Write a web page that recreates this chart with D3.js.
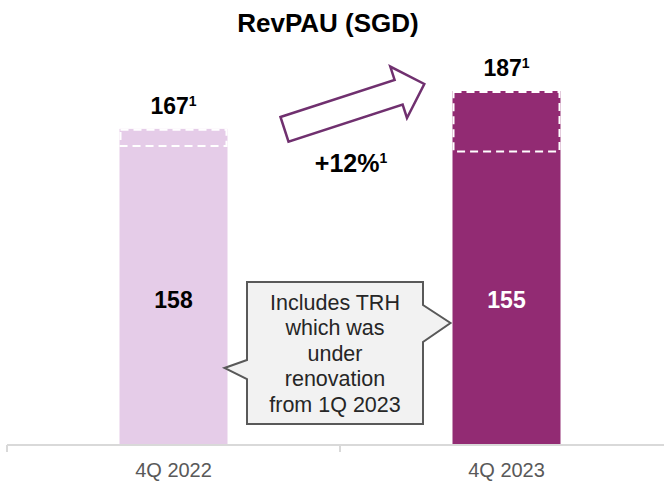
<!DOCTYPE html>
<html>
<head>
<meta charset="utf-8">
<script src="https://cdn.jsdelivr.net/npm/d3@7"></script>
<style>
  body { margin: 0; background: #fff; }
  text { font-family: "Liberation Sans", Arial, sans-serif; }
</style>
</head>
<body>
<div id="wrapper"></div>
<script>
// data
const categories = ["4Q 2022", "4Q 2023"];
const baseValues = [158, 155];      // solid part
const totalValues = [167, 187];     // incl. footnote 1 adjustment
const barColors = ["#e5cce8", "#922b73"];
const baseLabelColors = ["#000000", "#ffffff"];
const growthLabel = "+12%";
const calloutLines = ["Includes TRH", "which was", "under", "renovation", "from 1Q 2023"];

const dimensions = { width: 664, height: 482 };
const baseline = 445;

const wrapper = d3.select("#wrapper").append("svg")
  .attr("width", dimensions.width)
  .attr("height", dimensions.height);

const xScale = d3.scaleBand().domain(categories).range([7, 673]);
const yScale = d3.scaleLinear().domain([0, 200]).range([baseline, baseline - 378.6]);
const barWidth = 108;
const cx = c => xScale(c) + xScale.bandwidth() / 2;

// title
wrapper.append("text")
  .attr("x", 328).attr("y", 32)
  .attr("text-anchor", "middle")
  .style("font-size", "26px").style("font-weight", "bold")
  .text("RevPAU (SGD)");

// bars
const bars = wrapper.append("g");
categories.forEach((c, i) => {
  const x0 = cx(c) - barWidth / 2;
  bars.append("rect")
    .attr("x", x0).attr("y", yScale(totalValues[i]))
    .attr("width", barWidth).attr("height", baseline - yScale(totalValues[i]))
    .attr("fill", barColors[i]);
  // dashed outline of the adjustment part
  bars.append("rect")
    .attr("x", x0 + 1).attr("y", yScale(totalValues[i]) + 1)
    .attr("width", barWidth - 2).attr("height", yScale(baseValues[i]) - yScale(totalValues[i]) - 1)
    .attr("fill", "none")
    .attr("stroke", "#ffffff").attr("stroke-width", 2)
    .attr("stroke-dasharray", "8,5");
  // base value label
  bars.append("text")
    .attr("x", cx(c)).attr("y", 308)
    .attr("text-anchor", "middle")
    .attr("fill", baseLabelColors[i])
    .style("font-size", "23px").style("font-weight", "bold")
    .text(baseValues[i]);
  // total label with footnote
  const t = bars.append("text")
    .attr("x", cx(c)).attr("y", yScale(totalValues[i]) - 15)
    .attr("text-anchor", "middle")
    .style("font-size", "23px").style("font-weight", "bold");
  t.append("tspan").text(totalValues[i]);
  t.append("tspan").attr("dy", -8).style("font-size", "14px").text("1");
});

// axis
const axis = wrapper.append("g").attr("transform", `translate(0,${baseline})`);
axis.append("line")
  .attr("x1", 7).attr("x2", dimensions.width)
  .attr("stroke", "#d9d9d9").attr("stroke-width", 2);
categories.forEach(c => {
  axis.append("line")
    .attr("x1", xScale(c)).attr("x2", xScale(c))
    .attr("y1", 0).attr("y2", 7)
    .attr("stroke", "#d9d9d9").attr("stroke-width", 2);
});
const xAxis = d3.axisBottom(xScale).tickSize(0).tickPadding(18);
const axisLabels = axis.append("g").call(xAxis);
axisLabels.select(".domain").remove();
axisLabels.selectAll("text")
  .style("font-family", '"Liberation Sans", Arial, sans-serif')
  .style("font-size", "20px")
  .attr("fill", "#595959");

// growth arrow
const ax = cx(categories[0]) + 111, ay = yScale(totalValues[0]) + 0.5;
const L = 147, sw = 13, hw = 27, hl = 27;
const arrowPts = [[0, -sw], [L - hl, -sw], [L - hl, -hw], [L, 0], [L - hl, hw], [L - hl, sw], [0, sw]];
wrapper.append("path")
  .attr("d", d3.line()(arrowPts) + "Z")
  .attr("transform", `translate(${ax},${ay}) rotate(-18)`)
  .attr("fill", "#ffffff")
  .attr("stroke", "#70306f").attr("stroke-width", 2.5);

const g = wrapper.append("text")
  .attr("x", 351).attr("y", 172)
  .attr("text-anchor", "middle")
  .style("font-size", "25px").style("font-weight", "bold");
g.append("tspan").text(growthLabel);
g.append("tspan").attr("dy", -9).style("font-size", "14px").text("1");

// callout
const bx0 = 247, bx1 = 423, by0 = 282, by1 = 424;
const calloutPts = [
  [bx0, by0], [bx1, by0], [bx1, 305], [cx(categories[1]) - barWidth / 2 - 2, 323], [bx1, 342],
  [bx1, by1], [bx0, by1], [bx0, 379], [cx(categories[0]) + barWidth / 2 - 3, 368], [bx0, 360]
];
wrapper.append("path")
  .attr("d", d3.line()(calloutPts) + "Z")
  .attr("fill", "#f2f2f2")
  .attr("stroke", "#595959").attr("stroke-width", 2);
wrapper.append("g").selectAll("text")
  .data(calloutLines)
  .enter()
  .append("text")
  .attr("x", (bx0 + bx1) / 2)
  .attr("y", (d, i) => 310 + i * 25.4)
  .attr("text-anchor", "middle")
  .attr("fill", "#262626")
  .style("font-size", "21.5px")
  .text(d => d);
</script>
</body>
</html>
